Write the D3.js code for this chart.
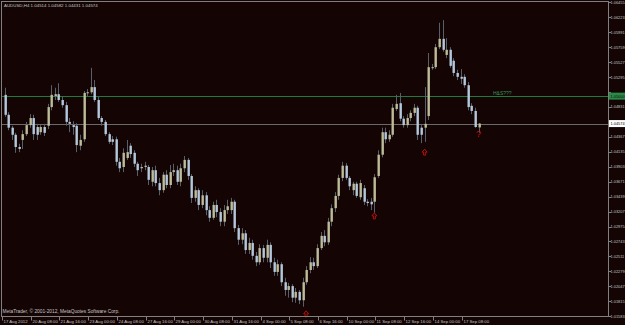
<!DOCTYPE html>
<html>
<head>
<meta charset="utf-8">
<script src="https://cdn.jsdelivr.net/npm/d3@7"></script>
<style>
html, body { margin: 0; padding: 0; background: #140404; }
svg { display: block; }
text { font-family: "Liberation Sans", Arial, sans-serif; }
</style>
</head>
<body>
<div id="chart"></div>
<script>
// AUDUSD H4 bars, 17 Aug 2012 00:00 .. 18 Sep 2012 00:00
const opens = [
    1.0502, 1.0471, 1.0451, 1.0440, 1.0421, 1.0432, 1.0441, 1.0455, 1.0466, 1.0452,
    1.0444, 1.0452, 1.0454, 1.0483, 1.0500, 1.0503, 1.0494, 1.0486, 1.0460, 1.0455,
    1.0454, 1.0423, 1.0433, 1.0505, 1.0506, 1.0514, 1.0494, 1.0466, 1.0460, 1.0441,
    1.0433, 1.0433, 1.0398, 1.0390, 1.0404, 1.0423, 1.0412, 1.0395, 1.0388, 1.0390,
    1.0390, 1.0367, 1.0385, 1.0365, 1.0354, 1.0378, 1.0362, 1.0382, 1.0385, 1.0367,
    1.0388, 1.0401, 1.0376, 1.0342, 1.0354, 1.0331, 1.0346, 1.0323, 1.0311, 1.0331,
    1.0320, 1.0305, 1.0323, 1.0323, 1.0336, 1.0295, 1.0277, 1.0287, 1.0261, 1.0272,
    1.0252, 1.0242, 1.0264, 1.0249, 1.0269, 1.0242, 1.0227, 1.0239, 1.0211, 1.0199,
    1.0205, 1.0187, 1.0196, 1.0183, 1.0211, 1.0230, 1.0242, 1.0236, 1.0264, 1.0283,
    1.0273, 1.0305, 1.0326, 1.0345, 1.0373, 1.0392, 1.0373, 1.0354, 1.0364, 1.0343,
    1.0357, 1.0336, 1.0336, 1.0336, 1.0376, 1.0409, 1.0444, 1.0433, 1.0440, 1.0480,
    1.0489, 1.0465, 1.0455, 1.0466, 1.0474, 1.0482, 1.0451, 1.0451, 1.0469, 1.0544,
    1.0545, 1.0576, 1.0589, 1.0564, 1.0572, 1.0555, 1.0536, 1.0530, 1.0530, 1.0517,
    1.0485, 1.0477, 1.04514
];
const highs = [
    1.0513, 1.0475, 1.0454, 1.0443, 1.0426, 1.0447, 1.0460, 1.0472, 1.0471, 1.0457,
    1.0455, 1.0457, 1.0488, 1.0517, 1.0513, 1.0520, 1.0499, 1.0491, 1.0466, 1.0461,
    1.0458, 1.0440, 1.0508, 1.0511, 1.0544, 1.0525, 1.0499, 1.0469, 1.0463, 1.0444,
    1.0438, 1.0437, 1.0404, 1.0419, 1.0432, 1.0427, 1.0416, 1.0398, 1.0395, 1.0398,
    1.0393, 1.0390, 1.0392, 1.0373, 1.0382, 1.0385, 1.0393, 1.0395, 1.0392, 1.0395,
    1.0407, 1.0404, 1.0379, 1.0360, 1.0357, 1.0354, 1.0351, 1.0329, 1.0336, 1.0339,
    1.0326, 1.0331, 1.0339, 1.0342, 1.0339, 1.0300, 1.0295, 1.0292, 1.0280, 1.0277,
    1.0258, 1.0270, 1.0269, 1.0277, 1.0273, 1.0249, 1.0246, 1.0242, 1.0218, 1.0210,
    1.0208, 1.0202, 1.0199, 1.0218, 1.0236, 1.0250, 1.0249, 1.0270, 1.0289, 1.0292,
    1.0311, 1.0332, 1.0351, 1.0378, 1.0398, 1.0396, 1.0376, 1.0367, 1.0367, 1.0370,
    1.0362, 1.0340, 1.0342, 1.0379, 1.0416, 1.0451, 1.0451, 1.0447, 1.0488, 1.0502,
    1.0505, 1.0469, 1.0472, 1.0478, 1.0488, 1.0485, 1.0455, 1.0514, 1.0567, 1.0550,
    1.0581, 1.0614, 1.0618, 1.0590, 1.0576, 1.0559, 1.0541, 1.0542, 1.0534, 1.0522,
    1.0489, 1.0482, 1.04582
];
const lows = [
    1.0468, 1.0447, 1.0432, 1.0412, 1.0413, 1.0418, 1.0438, 1.0451, 1.0432, 1.0432,
    1.0440, 1.0438, 1.0449, 1.0478, 1.0494, 1.0491, 1.0482, 1.0454, 1.0444, 1.0440,
    1.0413, 1.0416, 1.0429, 1.0500, 1.0503, 1.0491, 1.0463, 1.0454, 1.0438, 1.0426,
    1.0424, 1.0392, 1.0382, 1.0382, 1.0401, 1.0404, 1.0390, 1.0376, 1.0382, 1.0385,
    1.0362, 1.0360, 1.0360, 1.0346, 1.0350, 1.0357, 1.0357, 1.0376, 1.0362, 1.0360,
    1.0382, 1.0370, 1.0334, 1.0336, 1.0323, 1.0326, 1.0315, 1.0305, 1.0308, 1.0312,
    1.0298, 1.0298, 1.0317, 1.0317, 1.0289, 1.0269, 1.0270, 1.0255, 1.0255, 1.0246,
    1.0236, 1.0238, 1.0242, 1.0242, 1.0233, 1.0221, 1.0221, 1.0205, 1.0190, 1.0187,
    1.0180, 1.0179, 1.0177, 1.0173, 1.0207, 1.0225, 1.0230, 1.0233, 1.0261, 1.0267,
    1.0269, 1.0298, 1.0320, 1.0339, 1.0368, 1.0370, 1.0354, 1.0346, 1.0342, 1.0339,
    1.0331, 1.0329, 1.0323, 1.0319, 1.0373, 1.0405, 1.0427, 1.0429, 1.0437, 1.0477,
    1.0461, 1.0451, 1.0451, 1.0461, 1.0469, 1.0432, 1.0427, 1.0429, 1.0463, 1.0541,
    1.0542, 1.0573, 1.0569, 1.0559, 1.0544, 1.0531, 1.0525, 1.0519, 1.0513, 1.0478,
    1.0472, 1.0451, 1.04431
];
const closes = [
    1.0471, 1.0451, 1.0440, 1.0421, 1.0418, 1.0441, 1.0455, 1.0466, 1.0441, 1.0440,
    1.0452, 1.0443, 1.0483, 1.0502, 1.0503, 1.0494, 1.0486, 1.0460, 1.0457, 1.0452,
    1.0424, 1.0432, 1.0505, 1.0506, 1.0514, 1.0494, 1.0466, 1.0460, 1.0441, 1.0429,
    1.0429, 1.0398, 1.0388, 1.0412, 1.0413, 1.0410, 1.0395, 1.0385, 1.0390, 1.0392,
    1.0370, 1.0385, 1.0365, 1.0354, 1.0378, 1.0362, 1.0382, 1.0385, 1.0367, 1.0388,
    1.0401, 1.0376, 1.0342, 1.0354, 1.0331, 1.0346, 1.0323, 1.0311, 1.0331, 1.0320,
    1.0305, 1.0323, 1.0329, 1.0336, 1.0295, 1.0277, 1.0287, 1.0261, 1.0272, 1.0252,
    1.0242, 1.0264, 1.0249, 1.0269, 1.0242, 1.0227, 1.0239, 1.0211, 1.0199, 1.0205,
    1.0187, 1.0196, 1.0183, 1.0211, 1.0230, 1.0242, 1.0236, 1.0264, 1.0283, 1.0273,
    1.0305, 1.0326, 1.0345, 1.0373, 1.0392, 1.0373, 1.0360, 1.0364, 1.0345, 1.0365,
    1.0336, 1.0334, 1.0332, 1.0374, 1.0409, 1.0444, 1.0433, 1.0440, 1.0482, 1.0488,
    1.0465, 1.0455, 1.0466, 1.0474, 1.0482, 1.0440, 1.0440, 1.0457, 1.0545, 1.0545,
    1.0576, 1.0589, 1.0572, 1.0572, 1.0547, 1.0536, 1.0530, 1.0527, 1.0517, 1.0483,
    1.0477, 1.0452, 1.04574
];

// time axis: one label every 8 bars
const timeLabels = ['17 Aug 2012', '20 Aug 08:00', '21 Aug 16:00', '23 Aug 00:00', '24 Aug 08:00',
    '27 Aug 16:00', '29 Aug 00:00', '30 Aug 08:00', '31 Aug 16:00', '4 Sep 00:00', '5 Sep 08:00',
    '6 Sep 16:00', '10 Sep 00:00', '11 Sep 08:00', '12 Sep 16:00', '14 Sep 00:00', '17 Sep 08:00'];
const barsPerLabel = 8;

const priceTicks = [1.06455, 1.06223, 1.05991, 1.05759, 1.05527, 1.05295, 1.05063, 1.04831,
    1.04599, 1.04367, 1.04135, 1.03903, 1.03671, 1.03439, 1.03207, 1.02975, 1.02743, 1.02511,
    1.02279, 1.02047, 1.01815, 1.01583];

const levelPrice = 1.05000;      // green horizontal line
const levelText = 'H&S???';
const bidPrice = 1.04574;        // grey bid line
const titleText = 'AUDUSD,H4  1.04514 1.04582 1.04431 1.04574';
const copyText = 'MetaTrader, \u00a9 2001-2012, MetaQuotes Software Corp.';

// red arrow markers (bar index, price) and the question mark
const arrowBars = [84, 103, 117];
const arrowPrices = [1.0162, 1.0314, 1.0413];
const questionBar = 132;
const questionPrice = 1.0443;

const chartWidth = 625;
const chartHeight = 325;
const plotRight = 608.5;
const plotBottom = 316.5;

const bg = '#140404';
const frameColor = '#808080';
const textColor = '#c4c4c4';
const bullColor = '#bcbc98';
const bearColor = '#b4c8dc';
const wickColor = '#55606a';
const labelSize = 3.9;

const bars = opens.map((o, i) => ({i: i, o: o, h: highs[i], l: lows[i], c: closes[i]}));

const xScale = d3.scaleLinear()
    .domain([0, bars.length - 1])
    .range([4.5, 478.5]);

const yScale = d3.scaleLinear()
    .domain([1.06493, 1.06493 - 0.0001553 * 320])
    .range([0, 320]);

const svg = d3.select('#chart')
    .append('svg')
    .attr('width', chartWidth)
    .attr('height', chartHeight);

svg.append('rect')
    .attr('width', chartWidth)
    .attr('height', chartHeight)
    .attr('fill', bg);

// horizontal objects
svg.append('line')
    .attr('x1', 2).attr('x2', plotRight)
    .attr('y1', Math.round(yScale(levelPrice)) + 0.5)
    .attr('y2', Math.round(yScale(levelPrice)) + 0.5)
    .attr('stroke', '#1f7a3c');

svg.append('line')
    .attr('x1', 2).attr('x2', plotRight)
    .attr('y1', Math.round(yScale(bidPrice)) + 0.5)
    .attr('y2', Math.round(yScale(bidPrice)) + 0.5)
    .attr('stroke', '#6a6a6a');

// candles
const candle = svg.append('g');

candle.selectAll('line')
    .data(bars)
    .enter()
    .append('line')
    .attr('x1', d => Math.round(xScale(d.i)) + 0.5)
    .attr('x2', d => Math.round(xScale(d.i)) + 0.5)
    .attr('y1', d => yScale(d.h))
    .attr('y2', d => yScale(d.l))
    .attr('stroke', wickColor);

candle.selectAll('rect')
    .data(bars)
    .enter()
    .append('rect')
    .attr('x', d => Math.round(xScale(d.i)) - 0.5)
    .attr('width', 2.4)
    .attr('y', d => yScale(Math.max(d.o, d.c)))
    .attr('height', d => Math.max(1, yScale(Math.min(d.o, d.c)) - yScale(Math.max(d.o, d.c))))
    .attr('fill', d => d.c >= d.o ? bullColor : bearColor);

// arrows
svg.selectAll('path.arrow')
    .data(arrowBars)
    .enter()
    .append('path')
    .attr('class', 'arrow')
    .attr('transform', (d, i) => `translate(${xScale(d)},${yScale(arrowPrices[i])})`)
    .attr('d', 'M0,-3 L2.5,0 L1,0 L1,3 L-1,3 L-1,0 L-2.5,0 Z')
    .attr('fill', 'none')
    .attr('stroke', '#c81010')
    .attr('stroke-width', 0.9);

svg.append('text')
    .attr('x', xScale(questionBar))
    .attr('y', yScale(questionPrice) + 4)
    .attr('text-anchor', 'middle')
    .attr('font-size', 9)
    .attr('fill', '#c81010')
    .text('?');

svg.append('text')
    .attr('x', 493)
    .attr('y', yScale(levelPrice) - 1.5)
    .attr('font-size', 5)
    .attr('fill', '#2f9a55')
    .text(levelText);

// frame
svg.append('rect')
    .attr('x', 1.5).attr('y', 1.5)
    .attr('width', plotRight - 1.5)
    .attr('height', plotBottom - 1.5)
    .attr('fill', 'none')
    .attr('stroke', frameColor);

// price axis (ticks hidden where a price box sits)
const yAxis = svg.append('g');
priceTicks.forEach(p => {
    const y = yScale(p);
    const covered = [levelPrice, bidPrice].some(b => Math.abs(yScale(b) - y) < 6);
    yAxis.append('line')
        .attr('x1', plotRight).attr('x2', plotRight + 2.5)
        .attr('y1', Math.round(y) + 0.5).attr('y2', Math.round(y) + 0.5)
        .attr('stroke', frameColor);
    if (covered) return;
    yAxis.append('text')
        .attr('x', 610.5)
        .attr('y', y + 1.4)
        .attr('font-size', labelSize)
        .attr('fill', textColor)
        .text(p.toFixed(5));
});

// price boxes for the green level and the bid
[[levelPrice, '#2a8a48', '#0a0a0a'], [bidPrice, '#ffffff', '#000000']].forEach(b => {
    const y = yScale(b[0]);
    yAxis.append('rect')
        .attr('x', 609).attr('y', y - 3.5)
        .attr('width', 16).attr('height', 7)
        .attr('fill', b[1]);
    yAxis.append('text')
        .attr('x', 610.5)
        .attr('y', y + 1.4)
        .attr('font-size', labelSize)
        .attr('fill', b[2])
        .text(b[0].toFixed(5));
});

// time axis
const xAxis = svg.append('g');
timeLabels.forEach((t, k) => {
    const x = Math.round(xScale(k * barsPerLabel) - 2.5) + 0.5;
    xAxis.append('line')
        .attr('x1', x).attr('x2', x)
        .attr('y1', plotBottom).attr('y2', plotBottom + 4)
        .attr('stroke', frameColor);
    xAxis.append('text')
        .attr('x', x + 1)
        .attr('y', 323)
        .attr('font-size', 4.3)
        .attr('fill', textColor)
        .text(t);
});

svg.append('text')
    .attr('x', 4)
    .attr('y', 7)
    .attr('font-size', 4.4)
    .attr('fill', textColor)
    .text(titleText);

svg.append('text')
    .attr('x', 2.5)
    .attr('y', 313)
    .attr('font-size', 4.8)
    .attr('fill', textColor)
    .text(copyText);
</script>
</body>
</html>
